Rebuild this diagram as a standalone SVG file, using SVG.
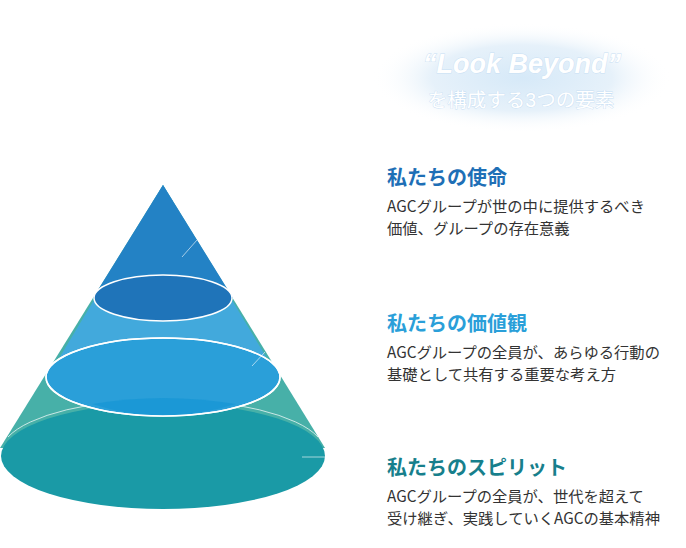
<svg xmlns="http://www.w3.org/2000/svg" width="686" height="548" viewBox="0 0 686 548">
<defs>
<radialGradient id="glow" cx="0.5" cy="0.5" r="0.5">
<stop offset="0" stop-color="#d6e9f8"/>
<stop offset="0.6" stop-color="#e6f1fa"/>
<stop offset="1" stop-color="#ffffff" stop-opacity="0"/>
</radialGradient>
<style>
.t{font-family:"Noto Sans CJK JP","Liberation Sans",sans-serif;font-weight:bold;font-size:20px}
.b{font-family:"Noto Sans CJK JP","Liberation Sans",sans-serif;font-size:15.3px;fill:#333}
.h{font-family:"Liberation Sans","Noto Sans CJK JP",sans-serif;fill:#fff;stroke:#c9e0f4;stroke-width:0.8;paint-order:stroke;text-anchor:middle}
.ld{stroke:#ffffff;stroke-opacity:0.6;stroke-width:1;fill:none}
.rim{stroke:#ffffff;stroke-width:1.5}
</style>
</defs>
<g id="header">
<ellipse cx="522" cy="78" rx="150" ry="55" fill="url(#glow)"/>
<text class="h" x="522" y="73" font-size="27" font-weight="bold" font-style="italic">“Look Beyond”</text>
<text class="h" x="521" y="107" font-size="19.5">を構成する3つの要素</text>
</g>
<g id="cone">
<path d="M163,185 L325,448 L0,448 Z" fill="#47b0a8"/>
<ellipse cx="163" cy="456" rx="162" ry="53" fill="#1a9aa6"/>
<path d="M8,437 A162,53 0 0 1 318,437" fill="none" stroke="#fff" stroke-opacity="0.7" stroke-width="1"/>
<path d="M163,185 L280,380 L46,380 Z" fill="#42a9dc"/>
<path d="M163,185 L233,298 L93,298 Z" fill="#2382c5"/>
<ellipse cx="163" cy="377" rx="117" ry="39" fill="#2a9fd9" class="rim"/>
<path d="M92,404 Q163,392 236,404 Q200,415 163,416 Q126,415 92,404Z" fill="#1695d4" opacity="0.7"/>
<ellipse cx="163" cy="377" rx="117" ry="39" fill="none" class="rim"/>
<ellipse cx="163" cy="298" rx="69" ry="23" fill="#1f74b9" class="rim"/>
</g>
<g id="connectors">
<line class="ld" x1="182" y1="257" x2="197" y2="240"/>
<line class="ld" x1="252" y1="366" x2="265" y2="352"/>
<line class="ld" x1="302" y1="457" x2="326" y2="457"/>
</g>
<g id="mission">
<text class="t" x="387" y="185" fill="#1e6fb6">私たちの使命</text>
<text class="b" x="387" y="212">AGCグループが世の中に提供するべき</text>
<text class="b" x="387" y="234">価値、グループの存在意義</text>
</g>
<g id="values">
<text class="t" x="387" y="331" fill="#2a9fd9">私たちの価値観</text>
<text class="b" x="387" y="358">AGCグループの全員が、あらゆる行動の</text>
<text class="b" x="387" y="380">基礎として共有する重要な考え方</text>
</g>
<g id="spirit">
<text class="t" x="387" y="475" fill="#177f8c">私たちのスピリット</text>
<text class="b" x="387" y="502">AGCグループの全員が、世代を超えて</text>
<text class="b" x="387" y="524">受け継ぎ、実践していくAGCの基本精神</text>
</g>
</svg>
